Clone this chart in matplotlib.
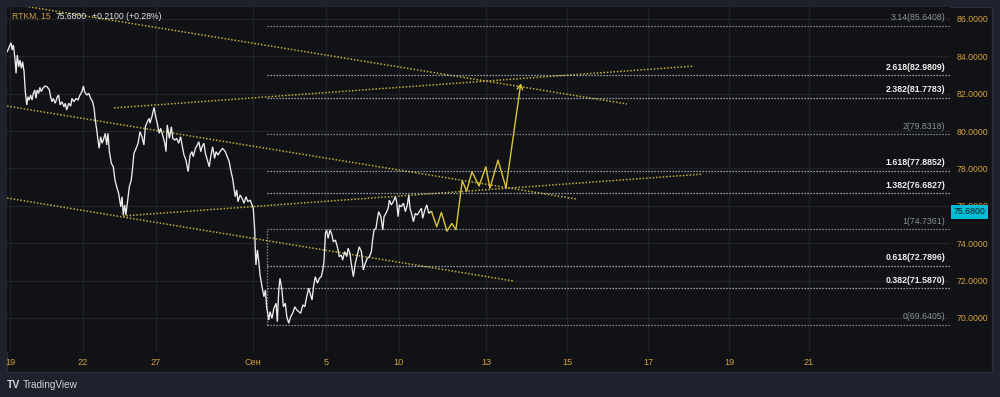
import matplotlib
matplotlib.use("Agg")
import matplotlib.pyplot as plt
from matplotlib.patches import Rectangle
from matplotlib import transforms

plt.rcParams['font.family'] = ['Liberation Sans', 'DejaVu Sans']

# ---------------- data ----------------
symbol = "RTKM, 15"
last_price = 75.68
change_text = "+0.2100 (+0.28%)"

# price path: x in trading-day units from Aug 19, y = price
price_t = [-0.11, -0.03, 0.04, 0.09, 0.14, 0.21, 0.25, 0.30, 0.36, 0.41, 0.47, 0.52, 0.58, 0.63, 0.69,
           0.74, 0.79, 0.85, 0.91, 0.96, 1.02, 1.07, 1.12, 1.18, 1.23, 1.29, 1.35, 1.44, 1.53, 1.62,
           1.67, 1.73, 1.78, 1.86, 1.95, 2.00, 2.06, 2.14, 2.22, 2.28, 2.33, 2.42, 2.50, 2.55, 2.63,
           2.72, 2.80, 2.88, 2.96, 3.02, 3.07, 3.16, 3.24, 3.32, 3.40, 3.46, 3.51, 3.57, 3.62, 3.67,
           3.73, 3.79, 3.84, 3.92, 3.98, 4.03, 4.09, 4.17, 4.25, 4.32, 4.39, 4.47, 4.56, 4.61, 4.66,
           4.72, 4.77, 4.83, 4.91, 4.99, 5.05, 5.10, 5.19, 5.27, 5.35, 5.43, 5.51, 5.57, 5.65, 5.73,
           5.76, 5.84, 5.93, 5.98, 6.06, 6.14, 6.20, 6.28, 6.37, 6.42, 6.47, 6.56, 6.64, 6.70, 6.78,
           6.86, 6.94, 7.02, 7.08, 7.16, 7.24, 7.33, 7.41, 7.49, 7.54, 7.63, 7.71, 7.77, 7.85, 7.90,
           7.98, 8.04, 8.12, 8.20, 8.26, 8.34, 8.42, 8.48, 8.56, 8.64, 8.75, 8.86, 8.94, 9.02, 9.08,
           9.16, 9.22, 9.27, 9.33, 9.38, 9.47, 9.55, 9.63, 9.71, 9.79, 9.88, 9.96, 10.01, 10.07, 10.09,
           10.12, 10.18, 10.23, 10.29, 10.37, 10.45, 10.51, 10.56, 10.65, 10.70, 10.78, 10.86, 10.95, 11.00, 11.06,
           11.11, 11.19, 11.25, 11.33, 11.39, 11.47, 11.55, 11.63, 11.72, 11.80, 11.88, 11.96, 12.05, 12.13, 12.21,
           12.29, 12.37, 12.43, 12.48, 12.56, 12.65, 12.73, 12.81, 12.87, 12.92, 12.98, 13.03, 13.09, 13.17, 13.25,
           13.30, 13.39, 13.47, 13.55, 13.63, 13.69, 13.77, 13.86, 13.91, 13.99, 14.04, 14.13, 14.21, 14.29, 14.37,
           14.46, 14.54, 14.62, 14.70, 14.79, 14.87, 14.92, 14.98, 15.06, 15.11, 15.17, 15.26, 15.34, 15.39, 15.47,
           15.56, 15.61, 15.69, 15.77, 15.86, 15.91, 15.97, 16.02, 16.10, 16.19, 16.27, 16.35, 16.41, 16.46, 16.54,
           16.60, 16.68, 16.76, 16.84, 16.93, 16.98, 17.07, 17.15, 17.23, 17.31, 17.35]
price_v = [84.25, 84.51, 84.73, 84.34, 84.61, 83.80, 83.09, 84.07, 83.44, 83.80, 83.36, 83.71, 83.18, 82.11, 81.40,
           81.84, 81.66, 81.93, 81.66, 82.02, 82.20, 81.75, 82.20, 82.02, 82.34, 82.11, 82.29, 82.41, 82.37, 82.20,
           81.84, 81.57, 81.75, 81.49, 81.84, 81.93, 81.40, 81.57, 81.30, 81.49, 81.13, 81.49, 81.34, 81.75, 81.57,
           81.75, 81.66, 81.93, 82.11, 82.41, 82.11, 81.93, 82.02, 81.75, 81.57, 81.22, 80.59, 80.06, 79.52, 79.08,
           79.70, 79.35, 79.52, 79.88, 79.26, 79.88, 78.90, 78.28, 78.09, 77.38, 77.02, 76.67, 75.95, 76.49, 75.51,
           76.05, 75.51, 76.14, 77.02, 77.38, 78.09, 78.81, 79.08, 79.35, 79.97, 79.70, 79.26, 80.23, 80.50, 80.68,
           80.42, 80.77, 81.27, 80.86, 80.42, 79.88, 80.15, 79.79, 79.35, 78.90, 80.33, 79.61, 80.23, 79.61, 79.52,
           79.61, 79.35, 79.70, 79.26, 78.72, 78.45, 77.83, 78.72, 78.90, 78.63, 79.08, 79.26, 79.43, 78.90, 79.16,
           79.35, 78.81, 78.45, 78.09, 78.63, 79.16, 78.54, 78.90, 78.72, 78.90, 79.08, 78.90, 78.63, 78.36, 77.92,
           77.47, 76.94, 76.49, 76.85, 76.22, 76.58, 76.40, 76.14, 76.49, 76.22, 76.31, 76.05, 75.87, 74.71, 73.81,
           72.84, 73.64, 73.10, 72.30, 71.67, 71.14, 71.50, 70.60, 69.89, 70.34, 69.98, 70.52, 70.79, 69.80, 71.50,
           72.12, 71.50, 70.60, 70.79, 70.07, 69.72, 70.07, 70.25, 70.60, 70.43, 70.34, 70.25, 70.70, 70.60, 71.14,
           71.59, 71.23, 70.96, 71.59, 72.21, 71.86, 72.12, 72.21, 72.57, 73.01, 74.53, 74.71, 74.26, 74.71, 74.44,
           74.08, 74.17, 73.81, 73.28, 73.37, 73.10, 73.55, 73.28, 73.73, 73.46, 72.93, 72.21, 72.93, 73.37, 73.81,
           73.55, 72.57, 72.93, 73.19, 73.28, 73.55, 74.17, 74.71, 74.80, 75.24, 75.69, 75.42, 74.71, 75.42, 75.60,
           75.87, 76.31, 76.05, 76.22, 76.49, 76.22, 75.42, 76.05, 75.95, 76.14, 75.69, 76.05, 76.58, 75.87, 75.51,
           75.15, 75.60, 75.51, 75.69, 75.87, 75.33, 75.78, 76.05, 75.60, 75.69, 75.68]

# projected path (yellow)
proj_t = [17.35, 17.56, 17.75, 17.98, 18.18, 18.35, 18.61, 18.79, 19.01, 19.30, 19.58, 19.75, 20.08, 20.41, 21.02]
proj_v = [75.68, 74.88, 75.65, 74.65, 75.06, 74.73, 77.35, 76.79, 77.83, 77.06, 78.09, 76.94, 78.45, 76.97, 82.56]

# trend lines: (t0, p0, t1, p1)
trend_lines = [
    (0.50, 86.71, 25.39, 81.45),
    (4.28, 81.24, 28.15, 83.48),
    (-0.12, 81.34, 23.29, 76.37),
    (4.65, 75.46, 28.52, 77.70),
    (-0.12, 76.42, 20.70, 71.98),
]

# Fibonacci extension levels
fib_ratios = ["0", "0.382", "0.618", "1", "1.382", "1.618", "2", "2.382", "2.618", "3.14"]
fib_prices = [69.6405, 71.5870, 72.7896, 74.7361, 76.6827, 77.8852, 79.8318, 81.7783, 82.9809, 85.6408]
fib_key = [False, True, True, False, True, True, False, True, True, False]
fib_start_t = 10.58

# axes ticks
x_tick_pos = [0, 3, 6, 10, 13, 16, 19.59, 22.92, 26.26, 29.59, 32.88]
x_tick_lab = ["19", "22", "27", "Сен", "5", "10", "13", "15", "17", "19", "21"]
y_ticks = [70, 72, 74, 76, 78, 80, 82, 84, 86]

# ---------------- style ----------------
outer_bg = "#1e222d"
panel_bg = "#111216"
grid_c = "#1f2229"
orange = "#d1a03c"
yellow_dot = "#c2ad34"
yellow = "#d9c43a"
fib_line_c = "#a3a6ae"

W, H = 1000, 397
fig = plt.figure(figsize=(W / 100, H / 100), dpi=100, facecolor=outer_bg)

# panel behind plot + axes
panel = Rectangle((7 / W, (H - 372) / H), 985 / W, 365 / H, transform=fig.transFigure,
                  facecolor=panel_bg, edgecolor="#2a2e39", lw=1, zorder=-5)
fig.patches.append(panel)

ax = fig.add_axes([7 / W, (H - 352) / H, 943 / W, 345 / H])
ax.set_zorder(1)
ax.set_facecolor(panel_bg)
for s in ax.spines.values():
    s.set_visible(False)

ax.set_xlim(-0.123, 38.68)
ax.set_ylim(68.18, 86.64)

ax.set_xticks(x_tick_pos)
ax.set_xticklabels(x_tick_lab)
ax.set_yticks(y_ticks)
ax.set_yticklabels([f"{v:.4f}" for v in y_ticks])
ax.yaxis.tick_right()
ax.tick_params(axis="x", length=0, pad=4.5, labelsize=6.6, labelcolor=orange)
ax.tick_params(axis="y", length=0, pad=4.5, labelsize=6.3, labelcolor=orange)
ax.grid(True, color=grid_c, lw=1, zorder=0)
ax.set_axisbelow(True)

# trend lines
for t0, p0, t1, p1 in trend_lines:
    ax.plot([t0, t1], [p0, p1], color=yellow_dot, lw=1.1, linestyle=(0, (1, 1.2)), zorder=2)

# fib levels
xmax = ax.get_xlim()[1]
for r, p, key in zip(fib_ratios, fib_prices, fib_key):
    ax.plot([fib_start_t, xmax], [p, p], color=("#c4c6cc" if key else fib_line_c), lw=0.9,
            linestyle=(0, (1, 1.4)), zorder=2)
ax.plot([fib_start_t, fib_start_t], [fib_prices[0], fib_prices[3]], color=fib_line_c, lw=0.9,
        linestyle=(0, (1, 1.4)), zorder=2)
blend = transforms.blended_transform_factory(ax.transAxes, ax.transData)
for r, p, key in zip(fib_ratios, fib_prices, fib_key):
    ax.annotate(f"{r}({p:.4f})", xy=(0.9947, p), xycoords=blend, xytext=(0, 2.5),
                textcoords="offset points", ha="right", va="bottom", fontsize=6.3,
                color=("#f0f0f0" if key else "#8d9099"),
                fontweight=("bold" if key else "normal"), zorder=4)

# price
ax.plot(price_t, price_v, color="#ececec", lw=0.95, zorder=3, solid_joinstyle="miter")

# projection
ax.plot(proj_t[:-1], proj_v[:-1], color=yellow, lw=1.0, zorder=3)
ax.annotate("", xy=(proj_t[-1], proj_v[-1]), xytext=(proj_t[-2], proj_v[-2]),
            arrowprops=dict(arrowstyle="->,head_length=0.35,head_width=0.2", color=yellow, lw=1.0,
                            shrinkA=0, shrinkB=0), zorder=3)

# last price badge
ax.text(1.0035, last_price, f"{last_price:.4f}", transform=blend, ha="left", va="center",
        fontsize=6.3, color="#0f1a20",
        bbox=dict(boxstyle="square,pad=0.28", facecolor="#00bcd4", edgecolor="none"),
        clip_on=False, zorder=6)

# header
fig.text(12 / W, 1 - 16.5 / H, symbol, color="#c99a48", fontsize=6.2, va="center", ha="left", zorder=5)
fig.text(56 / W, 1 - 16.5 / H, f"{last_price:.4f}", color="#e6e6e6", fontsize=6.2, va="center", ha="left", zorder=5)
fig.text(92 / W, 1 - 16.5 / H, change_text, color="#e6e6e6", fontsize=6.2, va="center", ha="left", zorder=5)

# TradingView logo
fig.text(7 / W, 1 - 385 / H, "TV", color="#d1d4dc", fontsize=7.5, fontweight="heavy",
         va="center", ha="left")
fig.text(23 / W, 1 - 385 / H, "TradingView", color="#d1d4dc", fontsize=7.2, va="center", ha="left")

fig.savefig("out.png", dpi=100, facecolor=outer_bg)
